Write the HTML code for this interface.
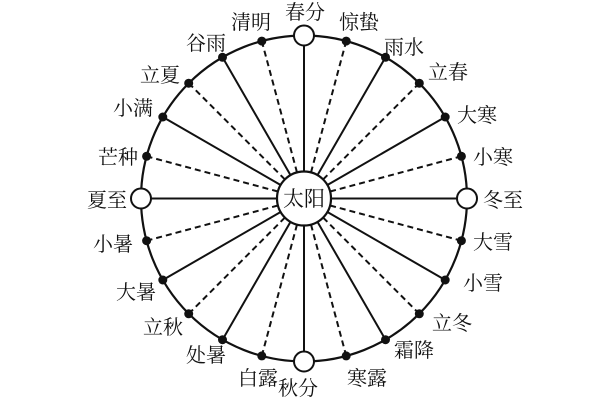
<!DOCTYPE html>
<html><head><meta charset="utf-8"><style>html,body{margin:0;padding:0;background:#fff}svg{display:block}</style></head>
<body>
<svg width="600" height="400" xmlns="http://www.w3.org/2000/svg" font-family="'Liberation Serif','Noto Serif CJK SC',serif" font-size="20" fill="#111">
<circle cx="304" cy="198.5" r="163" fill="none" stroke="#111" stroke-width="2.2"/>
<g stroke="#111" stroke-width="2">
<line x1="304" y1="171.5" x2="304" y2="35.5"/>
<line x1="311.0" y1="172.4" x2="346.2" y2="41.1" stroke-dasharray="6,4"/>
<line x1="317.5" y1="175.1" x2="385.5" y2="57.3"/>
<line x1="323.1" y1="179.4" x2="419.3" y2="83.2" stroke-dasharray="6,4"/>
<line x1="327.4" y1="185.0" x2="445.2" y2="117.0"/>
<line x1="330.1" y1="191.5" x2="461.4" y2="156.3" stroke-dasharray="6,4"/>
<line x1="331" y1="198.5" x2="467" y2="198.5"/>
<line x1="330.1" y1="205.5" x2="461.4" y2="240.7" stroke-dasharray="6,4"/>
<line x1="327.4" y1="212.0" x2="445.2" y2="280.0"/>
<line x1="323.1" y1="217.6" x2="419.3" y2="313.8" stroke-dasharray="6,4"/>
<line x1="317.5" y1="221.9" x2="385.5" y2="339.7"/>
<line x1="311.0" y1="224.6" x2="346.2" y2="355.9" stroke-dasharray="6,4"/>
<line x1="304" y1="225.5" x2="304" y2="361.5"/>
<line x1="297.0" y1="224.6" x2="261.8" y2="355.9" stroke-dasharray="6,4"/>
<line x1="290.5" y1="221.9" x2="222.5" y2="339.7"/>
<line x1="284.9" y1="217.6" x2="188.7" y2="313.8" stroke-dasharray="6,4"/>
<line x1="280.6" y1="212.0" x2="162.8" y2="280.0"/>
<line x1="277.9" y1="205.5" x2="146.6" y2="240.7" stroke-dasharray="6,4"/>
<line x1="277" y1="198.5" x2="141" y2="198.5"/>
<line x1="277.9" y1="191.5" x2="146.6" y2="156.3" stroke-dasharray="6,4"/>
<line x1="280.6" y1="185.0" x2="162.8" y2="117.0"/>
<line x1="284.9" y1="179.4" x2="188.7" y2="83.2" stroke-dasharray="6,4"/>
<line x1="290.5" y1="175.1" x2="222.5" y2="57.3"/>
<line x1="297.0" y1="172.4" x2="261.8" y2="41.1" stroke-dasharray="6,4"/>
</g>
<circle cx="304" cy="198.5" r="27" fill="#fff" stroke="#111" stroke-width="2.2"/>
<text x="304" y="206" text-anchor="middle" font-size="21">太阳</text>
<g fill="#111">
<circle cx="346.2" cy="41.1" r="4.5"/><circle cx="385.5" cy="57.3" r="4.5"/><circle cx="419.3" cy="83.2" r="4.5"/><circle cx="445.2" cy="117.0" r="4.5"/><circle cx="461.4" cy="156.3" r="4.5"/>
<circle cx="461.4" cy="240.7" r="4.5"/><circle cx="445.2" cy="280.0" r="4.5"/><circle cx="419.3" cy="313.8" r="4.5"/><circle cx="385.5" cy="339.7" r="4.5"/><circle cx="346.2" cy="355.9" r="4.5"/>
<circle cx="261.8" cy="355.9" r="4.5"/><circle cx="222.5" cy="339.7" r="4.5"/><circle cx="188.7" cy="313.8" r="4.5"/><circle cx="162.8" cy="280.0" r="4.5"/><circle cx="146.6" cy="240.7" r="4.5"/>
<circle cx="146.6" cy="156.3" r="4.5"/><circle cx="162.8" cy="117.0" r="4.5"/><circle cx="188.7" cy="83.2" r="4.5"/><circle cx="222.5" cy="57.3" r="4.5"/><circle cx="261.8" cy="41.1" r="4.5"/>
</g>
<g fill="#fff" stroke="#111" stroke-width="2">
<circle cx="304" cy="35.5" r="10"/><circle cx="467" cy="198.5" r="10"/><circle cx="304" cy="361.5" r="10"/><circle cx="141" cy="198.5" r="10"/>
</g>
<g text-anchor="middle">
<text x="305" y="19">春分</text>
<text x="359" y="29">惊蛰</text>
<text x="404" y="54">雨水</text>
<text x="448" y="79">立春</text>
<text x="477" y="122">大寒</text>
<text x="493" y="164">小寒</text>
<text x="503" y="207">冬至</text>
<text x="493" y="249">大雪</text>
<text x="483" y="290">小雪</text>
<text x="452" y="330">立冬</text>
<text x="414" y="357">霜降</text>
<text x="367" y="385">寒露</text>
<text x="298" y="395">秋分</text>
<text x="258" y="385">白露</text>
<text x="206" y="362">处暑</text>
<text x="163" y="334">立秋</text>
<text x="136" y="299">大暑</text>
<text x="113" y="251">小暑</text>
<text x="107" y="207">夏至</text>
<text x="118" y="164">芒种</text>
<text x="133" y="115">小满</text>
<text x="160" y="82">立夏</text>
<text x="206" y="50">谷雨</text>
<text x="251" y="29">清明</text>
</g>
</svg>
</body></html>
